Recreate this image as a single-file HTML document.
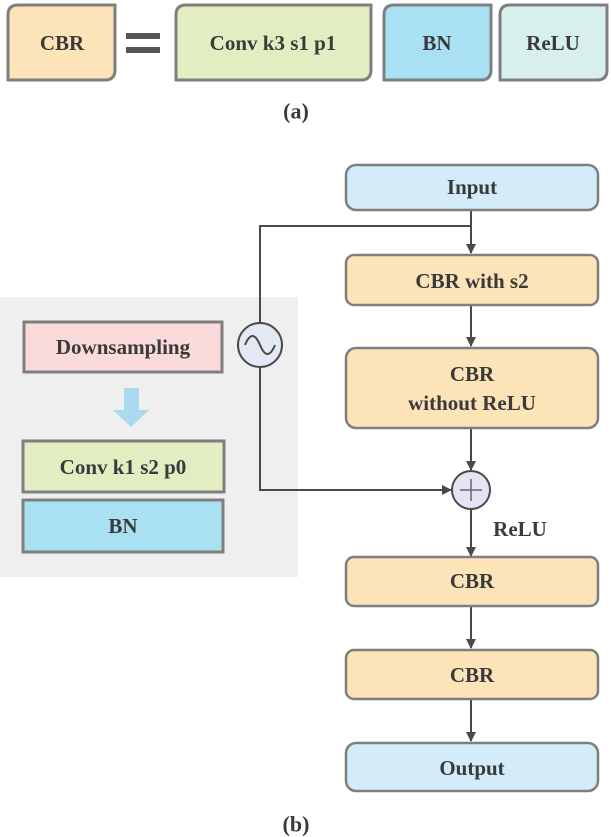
<!DOCTYPE html>
<html><head><meta charset="utf-8"><style>
html,body{margin:0;padding:0;background:#fff;}
svg{display:block;}
svg text{font-family:"Liberation Serif","DejaVu Serif",serif !important;font-weight:bold;fill:#3a3a3a;text-anchor:middle;dominant-baseline:central;}
</style></head><body>
<svg width="611" height="837" viewBox="0 0 611 837" xmlns="http://www.w3.org/2000/svg" font-family="Liberation Serif, serif">
<defs>
<marker id="ah" markerWidth="10" markerHeight="10" refX="9" refY="5" orient="auto" markerUnits="userSpaceOnUse">
<path d="M0,0 L10,5 L0,10 z" fill="#4a4a4a"/>
</marker>
</defs>
<!-- (a) -->
<g stroke="#7f7f7f" stroke-width="3">
<path d="M18,5 H115 V70 Q115,80 105,80 H8 V15 Q8,5 18,5 Z" fill="#fde3b8"/>
<path d="M186,5 H371 V70 Q371,80 361,80 H176 V15 Q176,5 186,5 Z" fill="#e2edc1"/>
<path d="M394,5 H491 V70 Q491,80 481,80 H384 V15 Q384,5 394,5 Z" fill="#a9e0f2"/>
<path d="M510,5 H607 V70 Q607,80 597,80 H500 V15 Q500,5 510,5 Z" fill="#d7f0ee"/>
</g>
<rect x="126" y="33" width="34" height="6" fill="#555"/>
<rect x="126" y="47" width="34" height="6" fill="#555"/>
<text x="62" y="43" font-size="21">CBR</text>
<text x="273" y="43" font-size="21">Conv k3 s1 p1</text>
<text x="437" y="43" font-size="21">BN</text>
<text x="553" y="43" font-size="21">ReLU</text>
<text x="296" y="111" font-size="22" fill="#222">(a)</text>

<!-- gray region -->
<rect x="0" y="297" width="298" height="280" fill="#efefef"/>
<g stroke="#7f7f7f" stroke-width="3">
<rect x="24" y="322" width="198" height="50" fill="#fadadb"/>
<rect x="23" y="441" width="201" height="51" fill="#e2edc1"/>
<rect x="23" y="500" width="200" height="52" fill="#a9e0f2"/>
</g>
<path d="M124,388 H139 V410 H149 L131,427 L113,410 H124 Z" fill="#a9daf0"/>
<text x="123" y="347" font-size="21">Downsampling</text>
<text x="123" y="467" font-size="21">Conv k1 s2 p0</text>
<text x="123" y="526" font-size="21">BN</text>

<!-- connectors -->
<g stroke="#4a4a4a" stroke-width="2" fill="none">
<line x1="471" y1="210" x2="471" y2="253" marker-end="url(#ah)"/>
<polyline points="471,226 260,226 260,323"/>
<polyline points="260,367 260,490 451,490" marker-end="url(#ah)"/>
<line x1="471" y1="305" x2="471" y2="346" marker-end="url(#ah)"/>
<line x1="471" y1="428" x2="471" y2="470" marker-end="url(#ah)"/>
<line x1="471" y1="510" x2="471" y2="556" marker-end="url(#ah)"/>
<line x1="471" y1="606" x2="471" y2="648" marker-end="url(#ah)"/>
<line x1="471" y1="699" x2="471" y2="741" marker-end="url(#ah)"/>
</g>
<circle cx="260" cy="345" r="22" fill="#e3e8f5" stroke="#4a4a4a" stroke-width="2"/>
<path d="M245,345 C250,333 255,333 260,345 C265,357 270,357 275,345" stroke="#4a4a4a" stroke-width="2" fill="none"/>
<circle cx="471" cy="490" r="19" fill="#e6e3f5" stroke="#4a4a4a" stroke-width="2"/>
<path d="M460,490 H482 M471,479 V501" stroke="#666" stroke-width="1.5"/>
<text x="520" y="529" font-size="21">ReLU</text>

<!-- main boxes -->
<g stroke="#7f7f7f" stroke-width="2.5">
<rect x="346" y="165" width="252" height="45" rx="10" fill="#d4ebfa"/>
<rect x="346" y="255" width="252" height="50" rx="8" fill="#fde3b8"/>
<rect x="346" y="348" width="252" height="80" rx="10" fill="#fde3b8"/>
<rect x="346" y="557" width="252" height="49" rx="8" fill="#fde3b8"/>
<rect x="346" y="650" width="252" height="49" rx="8" fill="#fde3b8"/>
<rect x="346" y="743" width="252" height="48" rx="10" fill="#d4ebfa"/>
</g>
<text x="472" y="187" font-size="21">Input</text>
<text x="472" y="281" font-size="21">CBR with s2</text>
<text x="472" y="374" font-size="21">CBR</text>
<text x="472" y="403" font-size="21">without ReLU</text>
<text x="472" y="581" font-size="21">CBR</text>
<text x="472" y="675" font-size="21">CBR</text>
<text x="472" y="768" font-size="21">Output</text>
<text x="296" y="824" font-size="22" fill="#222">(b)</text>
</svg>
</body></html>
